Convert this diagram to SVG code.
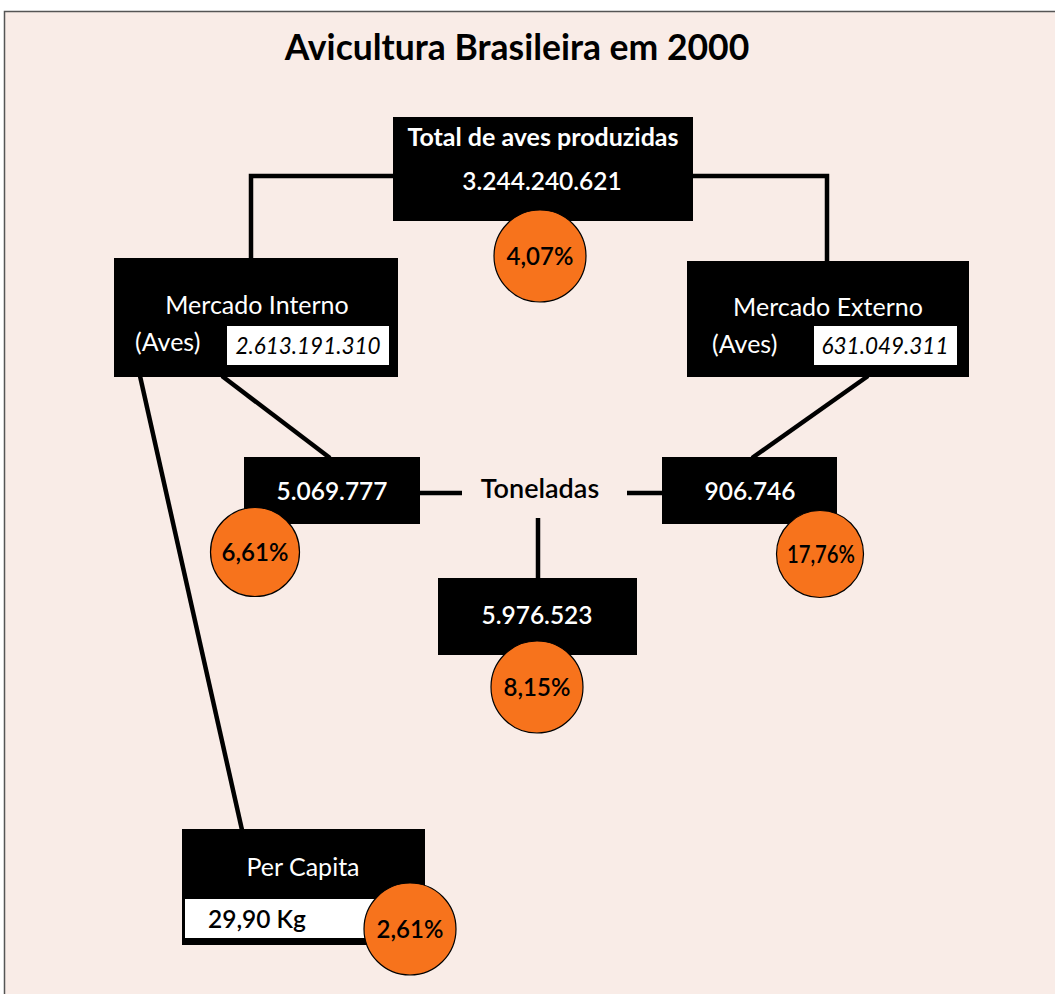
<svg xmlns="http://www.w3.org/2000/svg" width="1055" height="994" viewBox="0 0 1055 994">
<style>
.box{fill:#000}
.wbox{fill:#fff}
.circ{fill:#F7731C;stroke:#000;stroke-width:1.2}
.t{font-family:Lato,"Open Sans","Liberation Sans",sans-serif}
.wh{fill:#fff}
.num{font-size:24.5px;font-weight:600;fill:#fff;text-anchor:middle}
.pct{font-size:24px;font-weight:600;fill:#000;text-anchor:middle}
.lbl{font-size:25px;fill:#fff}
.it{font-size:22.5px;font-style:italic;fill:#000;text-anchor:middle}
.conn{stroke:#000;stroke-width:4.5;fill:none}
</style>
<rect x="0" y="0" width="1055" height="994" fill="#fff"/>
<rect x="4.5" y="11.5" width="1060" height="1000" fill="#F9ECE7" stroke="#555" stroke-width="1.5"/>
<text class="t" x="517" y="60" font-size="35.5" font-weight="bold" text-anchor="middle" fill="#000">Avicultura Brasileira em 2000</text>
<g id="connectors">
<polyline class="conn" points="393,176 251,176 251,259"/>
<polyline class="conn" points="693,176 827,176 827,262"/>
<line class="conn" x1="222" y1="376" x2="330" y2="458"/>
<line class="conn" x1="868" y1="376" x2="752" y2="458"/>
<line class="conn" x1="140" y1="376" x2="242" y2="830"/>
<line class="conn" x1="420" y1="493" x2="462" y2="493"/>
<line class="conn" x1="627" y1="493" x2="662" y2="493"/>
<line class="conn" x1="538" y1="518" x2="538" y2="579"/>
</g>
<g id="total">
<rect class="box" x="393" y="117" width="300" height="104"/>
<text class="t wh" x="543" y="146" font-size="25" font-weight="bold" text-anchor="middle">Total de aves produzidas</text>
<text class="t num" x="542" y="190">3.244.240.621</text>
<circle class="circ" cx="540" cy="256" r="46"/>
<text class="t pct" x="540" y="265">4,07%</text>
</g>
<g id="mercado-interno">
<rect class="box" x="114" y="258" width="284" height="119"/>
<text class="t lbl" x="257" y="314" text-anchor="middle">Mercado Interno</text>
<text class="t lbl" x="135" y="351">(Aves)</text>
<rect class="wbox" x="227" y="326" width="162" height="39"/>
<text class="t it" x="308" y="354">2.613.191.310</text>
</g>
<g id="mercado-externo">
<rect class="box" x="687" y="261" width="282" height="116"/>
<text class="t lbl" x="828" y="316" text-anchor="middle">Mercado Externo</text>
<text class="t lbl" x="712" y="353">(Aves)</text>
<rect class="wbox" x="814" y="326" width="143" height="39"/>
<text class="t it" x="885" y="354">631.049.311</text>
</g>
<g id="interno-ton">
<rect class="box" x="244" y="457" width="176" height="67"/>
<text class="t num" x="332" y="500">5.069.777</text>
<circle class="circ" cx="255" cy="552" r="44.5"/>
<text class="t pct" x="255" y="561">6,61%</text>
</g>
<g id="toneladas">
<text class="t" x="540" y="498" font-size="27" font-weight="600" text-anchor="middle" fill="#000">Toneladas</text>
</g>
<g id="externo-ton">
<rect class="box" x="662" y="457" width="175" height="67"/>
<text class="t num" x="750" y="500">906.746</text>
<circle class="circ" cx="820" cy="554" r="43.5"/>
<text class="t pct" x="821" y="563" textLength="68" lengthAdjust="spacingAndGlyphs">17,76%</text>
</g>
<g id="total-ton">
<rect class="box" x="438" y="578" width="199" height="77"/>
<text class="t num" x="537" y="624">5.976.523</text>
<circle class="circ" cx="537" cy="687" r="46"/>
<text class="t pct" x="537" y="696">8,15%</text>
</g>
<g id="per-capita">
<rect class="box" x="182" y="829" width="243" height="116"/>
<text class="t lbl" x="303" y="876" text-anchor="middle">Per Capita</text>
<rect class="wbox" x="185" y="899" width="200" height="39"/>
<text class="t" x="208" y="928" font-size="24.5" font-weight="600" fill="#000">29,90 Kg</text>
<circle class="circ" cx="410" cy="929" r="46"/>
<text class="t pct" x="410" y="938">2,61%</text>
</g>
</svg>
